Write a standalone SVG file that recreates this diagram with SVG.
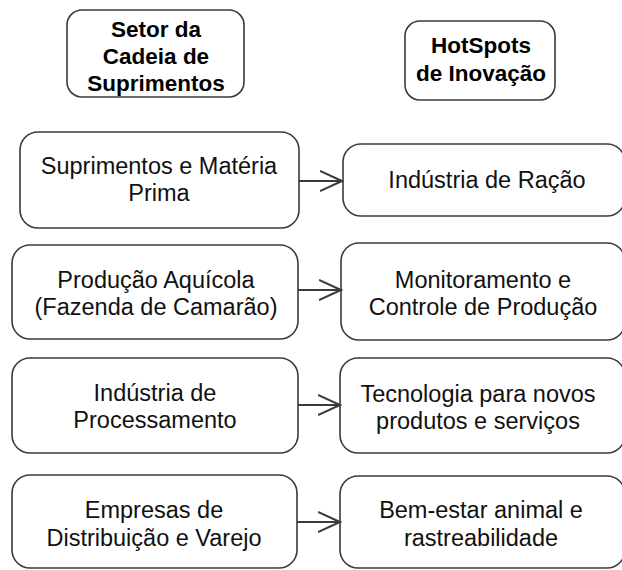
<svg xmlns="http://www.w3.org/2000/svg" width="622" height="570" viewBox="0 0 622 570">
<defs>
<style>
.box{fill:#fff;stroke:#3a3a3a;stroke-width:1.6}
.t{font-family:"Liberation Sans",Arial,sans-serif;font-size:23.5px;fill:#111;text-anchor:middle}
.h{font-family:"Liberation Sans",Arial,sans-serif;font-size:22.5px;font-weight:bold;fill:#000;text-anchor:middle}
.c{stroke:#3a3a3a;stroke-width:2;fill:none}
</style>
<marker id="arr" viewBox="0 0 24 24" refX="22" refY="12" markerWidth="24" markerHeight="24" markerUnits="userSpaceOnUse" orient="auto">
<path d="M0,2 L22,12 L0,22" fill="none" stroke="#3a3a3a" stroke-width="2"/>
</marker>
</defs>
<rect width="622" height="570" fill="#fff"/>
<g id="header-setor">
<rect class="box" x="67" y="10" width="177" height="87" rx="15"/>
<text class="h" x="156" y="37">Setor da</text>
<text class="h" x="156" y="64">Cadeia de</text>
<text class="h" x="156" y="91">Suprimentos</text>
</g>
<g id="header-hotspots">
<rect class="box" x="405" y="21" width="150" height="79" rx="15"/>
<text class="h" x="481" y="53">HotSpots</text>
<text class="h" x="481" y="81">de Inovação</text>
</g>
<g id="n-suprimentos">
<rect class="box" x="20" y="132" width="279" height="96" rx="18"/>
<text class="t" x="159" y="174">Suprimentos e Matéria</text>
<text class="t" x="159" y="201">Prima</text>
</g>
<g id="n-racao">
<rect class="box" x="343" y="144" width="282" height="72" rx="18"/>
<text class="t" x="487" y="188">Indústria de Ração</text>
</g>
<g id="n-producao">
<rect class="box" x="12" y="245" width="286" height="94" rx="18"/>
<text class="t" x="156" y="288">Produção Aquícola</text>
<text class="t" x="156" y="315">(Fazenda de Camarão)</text>
</g>
<g id="n-monitoramento">
<rect class="box" x="341" y="243" width="284" height="97" rx="18"/>
<text class="t" x="483" y="288">Monitoramento e</text>
<text class="t" x="483" y="315">Controle de Produção</text>
</g>
<g id="n-processamento">
<rect class="box" x="12" y="358" width="286" height="95" rx="18"/>
<text class="t" x="155" y="401">Indústria de</text>
<text class="t" x="155" y="428">Processamento</text>
</g>
<g id="n-tecnologia">
<rect class="box" x="340" y="358" width="285" height="95" rx="18"/>
<text class="t" x="478" y="402">Tecnologia para novos</text>
<text class="t" x="478" y="429">produtos e serviços</text>
</g>
<g id="n-distribuicao">
<rect class="box" x="12" y="475" width="285" height="93" rx="18"/>
<text class="t" x="154" y="518">Empresas de</text>
<text class="t" x="154" y="546">Distribuição e Varejo</text>
</g>
<g id="n-bemestar">
<rect class="box" x="340" y="476" width="285" height="92" rx="18"/>
<text class="t" x="481" y="518">Bem-estar animal e</text>
<text class="t" x="481" y="546">rastreabilidade</text>
</g>
<g id="connectors">
<line class="c" x1="299" y1="181" x2="342" y2="181" marker-end="url(#arr)"/>
<line class="c" x1="298" y1="290" x2="341" y2="290" marker-end="url(#arr)"/>
<line class="c" x1="298" y1="405" x2="340" y2="405" marker-end="url(#arr)"/>
<line class="c" x1="297" y1="522" x2="340" y2="522" marker-end="url(#arr)"/>
</g>
</svg>
